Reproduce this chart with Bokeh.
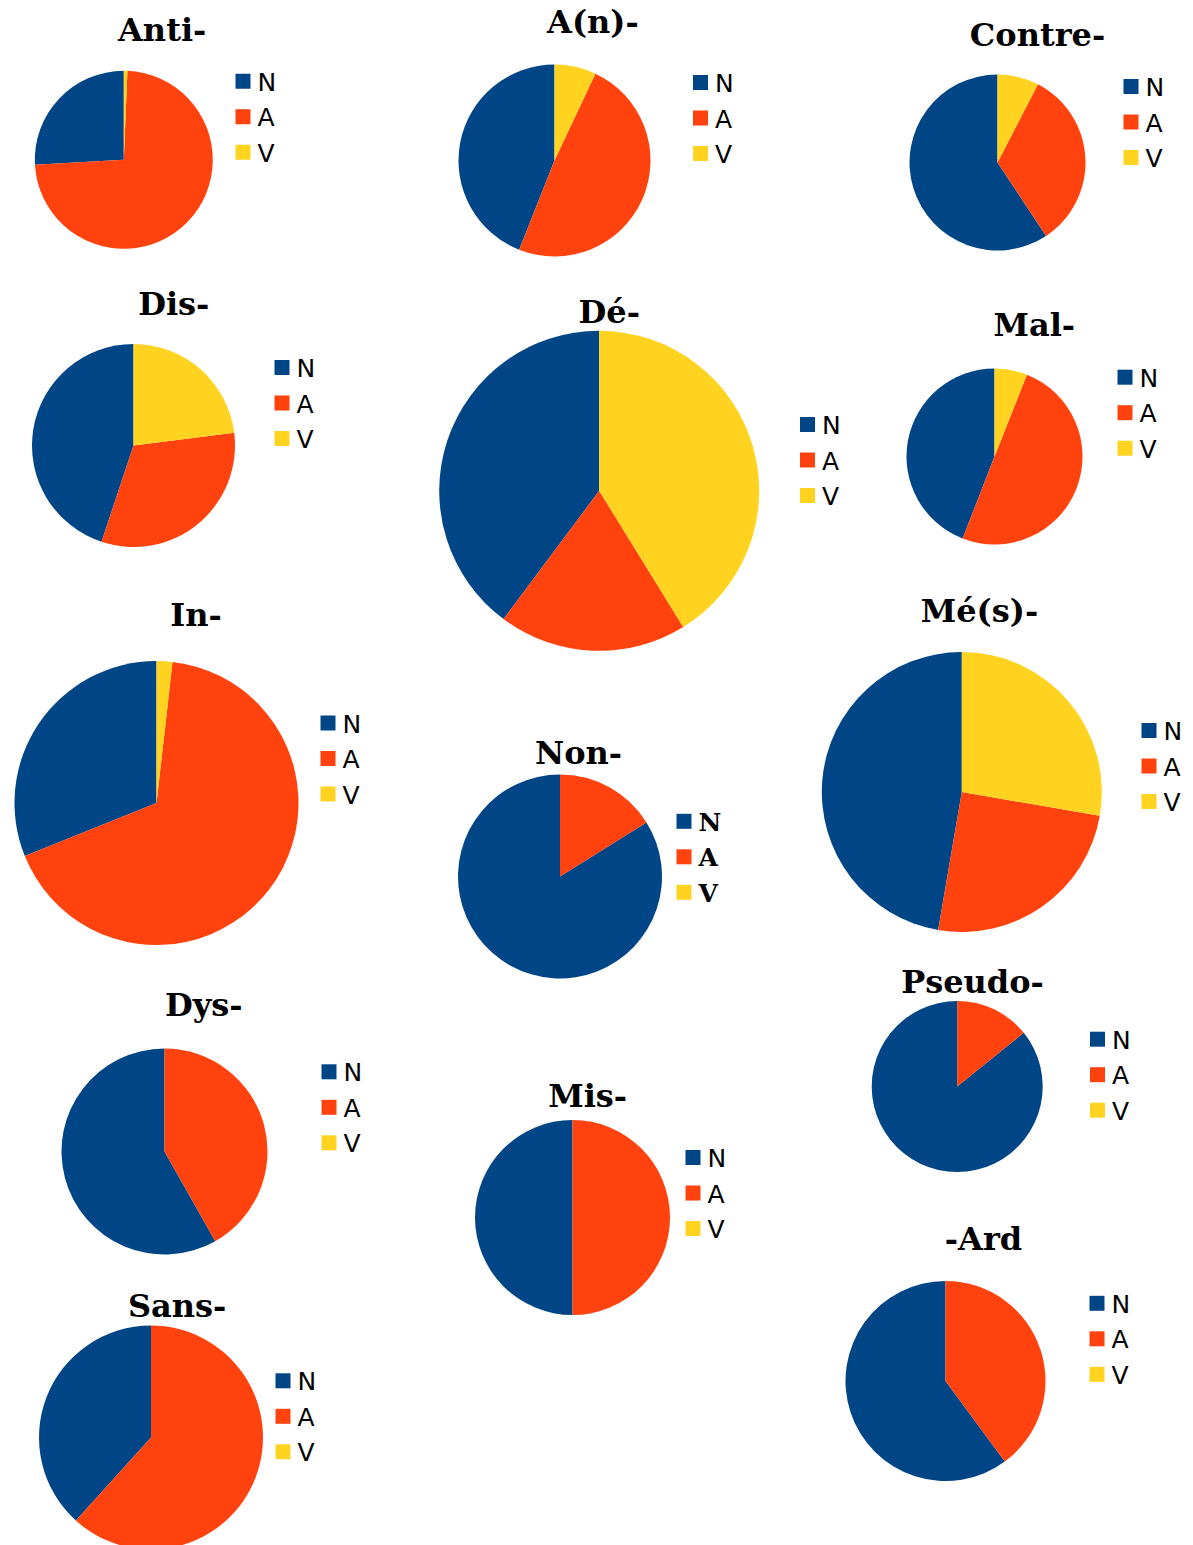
import numpy as np
from bokeh.plotting import figure
from bokeh.models import Range1d, ColumnDataSource
from bokeh.core.properties import value
from bokeh.embed import file_html
from bokeh.resources import INLINE

W, H = 1193, 1545

# ---------------- data (shares in %) ----------------
prefixes = ["Anti-", "A(n)-", "Contre-", "Dis-", "Dé-", "Mal-", "In-",
            "Non-", "Mé(s)-", "Dys-", "Pseudo-", "Mis-", "Sans-", "-Ard"]
categories = ["N", "A", "V"]
share_N = [25.9, 44.0, 59.3, 44.9, 39.8, 44.1, 31.1, 83.9, 47.3, 58.2, 85.8, 50.0, 38.3, 60.1]
share_A = [73.45, 49.0, 33.1, 32.1, 19.0, 49.9, 67.1, 16.1, 25.0, 41.8, 14.2, 50.0, 61.7, 39.9]
share_V = [0.65, 7.0, 7.6, 23.0, 41.2, 6.0, 1.8, 0.0, 27.7, 0.0, 0.0, 0.0, 0.0, 0.0]

colors = ["#004586", "#ff420e", "#ffd320"]

# ---------------- layout (page pixels, y measured from top) ----------------
pie_cx = [123.3, 554, 997, 133, 598.7, 994, 156, 559.5, 961.3, 164, 956.7, 572, 150.5, 945]
pie_cy = [159.3, 160, 162, 445, 490.3, 456, 802.5, 876, 791.5, 1151, 1086, 1217, 1437, 1380.5]
pie_r = [89, 96, 88, 101.5, 160, 88, 142, 102, 140, 103, 85.5, 97.5, 112, 100]
title_x = [161.7, 592.4, 1037, 173.3, 608.8, 1033.8, 195.5, 578, 979, 203.3, 972, 587.2, 176.7, 983]
title_y = [42, 34, 47, 316, 324, 337.5, 627.5, 765, 623.5, 1017, 994.5, 1108, 1318.5, 1251]
legend_x = [235, 692.5, 1123, 274, 799.5, 1117, 320, 676, 1141, 321, 1089.5, 685, 275, 1089]
legend_y = [80.8, 82, 86, 367, 424, 376.7, 722.5, 820.8, 730, 1071.3, 1038.7, 1157, 1380.3, 1302.8]
legend_bold = [False] * 14
legend_bold[7] = True
ROW = 35.5
SQ = 15
TITLE_SIZE = 32
LEG_SIZE = 25
TITLE_SHIFT = 13   # renderer baseline correction
LEG_SHIFT = 8

p = figure(width=W, height=H, x_range=Range1d(0, W), y_range=Range1d(0, H),
           output_backend="svg", toolbar_location=None, title=None, min_border=0)
p.axis.visible = False
p.grid.visible = False
p.outline_line_color = None
p.background_fill_color = "white"
p.border_fill_color = "white"

# wedges
wx, wy, wr, ws, we, wc = [], [], [], [], [], []
for i in range(len(prefixes)):
    vals = np.array([share_N[i], share_A[i], share_V[i]], dtype=float)
    frac = vals / vals.sum()
    cum = np.concatenate([[0.0], np.cumsum(frac)])
    for k in range(3):
        if frac[k] <= 0:
            continue
        wx.append(pie_cx[i])
        wy.append(H - pie_cy[i])
        wr.append(pie_r[i])
        ws.append(np.pi / 2 + 2 * np.pi * cum[k])
        we.append(np.pi / 2 + 2 * np.pi * cum[k + 1])
        wc.append(colors[k])

src = ColumnDataSource(dict(x=wx, y=wy, r=wr, s=ws, e=we, c=wc))
p.wedge(x="x", y="y", radius="r", start_angle="s", end_angle="e",
        direction="anticlock", fill_color="c", line_color=None, source=src)

# titles
p.text(x=title_x, y=[H - (t - TITLE_SHIFT) for t in title_y], text=prefixes,
       text_font=value("DejaVu Serif"), text_font_style="bold",
       text_font_size=f"{TITLE_SIZE}px", text_align="center",
       text_baseline="alphabetic", text_color="black")

# legends
sqx, sqy, sqc = [], [], []
tx, ty, tt, txb, tyb, ttb = [], [], [], [], [], []
cap_off = 0.729 * LEG_SIZE / 2
for i in range(len(prefixes)):
    for k, cat in enumerate(categories):
        yc = legend_y[i] + k * ROW
        sqx.append(legend_x[i] + SQ / 2)
        sqy.append(H - yc)
        sqc.append(colors[k])
        ypos = H - (yc + cap_off - LEG_SHIFT)
        if legend_bold[i]:
            txb.append(legend_x[i] + 22)
            tyb.append(ypos)
            ttb.append(cat)
        else:
            tx.append(legend_x[i] + 22)
            ty.append(ypos)
            tt.append(cat)

p.rect(x=sqx, y=sqy, width=SQ, height=SQ, fill_color=sqc, line_color=None)
p.text(x=tx, y=ty, text=tt, text_font=value("DejaVu Sans"),
       text_font_size=f"{LEG_SIZE}px", text_align="left",
       text_baseline="alphabetic", text_color="black")
p.text(x=txb, y=tyb, text=ttb, text_font=value("DejaVu Serif"),
       text_font_style="bold", text_font_size=f"{LEG_SIZE}px",
       text_align="left", text_baseline="alphabetic", text_color="black")

open("out.html", "w").write(file_html(p, INLINE))
